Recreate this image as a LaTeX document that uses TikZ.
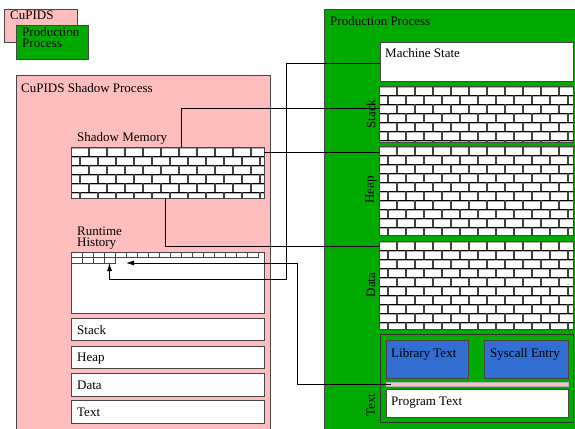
\documentclass[tikz,border=0pt]{standalone}
\usepackage{fontspec}
\setmainfont{Liberation Serif}
\usetikzlibrary{arrows.meta,calc}
\definecolor{cpink}{RGB}{255,190,190}
\definecolor{cgreen}{RGB}{0,170,0}
\definecolor{cblue}{RGB}{50,110,210}
\definecolor{edge}{RGB}{70,70,70}
\newcommand\rbox[6]{\node[#6, minimum width={(#4)-(#2)}, minimum height={(#5)-(#3)}, anchor=north west] (#1) at (#2,#3) {};}
\newcommand\brickfill[4]{%
  \begin{scope}
  \clip (#1,#2) rectangle (#3,#4);
  \foreach \r in {0,...,11}{
    \pgfmathsetmacro\yy{#2+9*\r}
    \pgfmathsetmacro\off{mod(\r,2)*9}
    \draw[gray!60, line width=1pt] (#1,\yy+1.2) -- (#3,\yy+1.2);
    \draw[black, line width=0.9pt] (#1,\yy) -- (#3,\yy);
    \foreach \k in {0,...,11}{
      \pgfmathsetmacro\xx{#1+\off+18*\k}
      \draw[black!75, line width=1.5pt] (\xx,\yy) -- (\xx,\yy+9);
    }
  }
  \end{scope}}
\begin{document}
\begin{tikzpicture}[x=1pt,y=-1pt,
  box/.style={draw=edge, line width=0.8pt, inner sep=0pt, outer sep=0pt},
  lbl/.style={anchor=base west, inner sep=0pt, font=\fontsize{13}{11}\selectfont},
  lblm/.style={anchor=north west, inner sep=0pt, align=left, font=\fontsize{13}{11}\selectfont},
  rlbl/.style={rotate=90, inner sep=0pt, font=\fontsize{13}{11}\selectfont},
  conn/.style={draw=black, line width=0.8pt},
  arr/.style={conn, -{Latex[length=8pt,width=5pt]}}]
\useasboundingbox (0,0) rectangle (575,428);
\fill[white] (0,0) rectangle (575,428);

% legend
\rbox{legpink}{4}{9}{77}{42}{box, fill=cpink}
\rbox{leggreen}{16}{25}{88}{59}{box, fill=cgreen}
\node[lbl] (legpinkt) at (10,19.5) {CuPIDS};
\node[lblm] (leggreent) at (22,27.2) {Production\\Process};

% shadow process
\rbox{shadow}{16}{75}{270}{440}{box, fill=cpink}
\node[lbl] (shadowt) at (21,92) {CuPIDS Shadow Process};
\node[lbl] (shmt) at (77,141) {Shadow Memory};
\rbox{shm}{71}{147}{264}{198}{box, fill=white}
\brickfill{71}{147}{264}{198}
\draw[edge, line width=0.8pt] (shm.north west) rectangle (shm.south east);

\node[lblm] (rht) at (77,226.2) {Runtime\\History};
\rbox{rh}{71}{252}{264}{313}{box, fill=white}
\foreach \k in {0,...,16}{\rbox{ha\k}{71+11*\k}{252}{82+11*\k}{257}{box, line width=0.7pt}}
\foreach \k in {1,...,4}{\rbox{hb\k}{60+11*\k}{257}{71+11*\k}{263}{box, line width=0.7pt}}

\rbox{sstack}{71}{318}{264}{340}{box, fill=white}
\rbox{sheap}{71}{346}{264}{368}{box, fill=white}
\rbox{sdata}{71}{373}{264}{396}{box, fill=white}
\rbox{stext}{71}{400}{264}{423}{box, fill=white}
\node[lbl] (sstackt) at (77,334) {Stack};
\node[lbl] (sheapt) at (77,361) {Heap};
\node[lbl] (sdatat) at (77,389) {Data};
\node[lbl] (stextt) at (77,416) {Text};

% production process
\rbox{prod}{324}{9}{590}{440}{box, fill=cgreen}
\node[lbl] (prodt) at (330,25.7) {Production Process};
\rbox{ms}{380}{42}{573}{81}{box, fill=white}
\node[lbl] (mst) at (385,58) {Machine State};
\rbox{stack}{379}{86}{573}{142}{box, fill=white}
\brickfill{379}{86}{573}{142}
\draw[edge, line width=0.8pt] (stack.north west) rectangle (stack.south east);
\rbox{heap}{379}{146}{573}{235}{box, fill=white}
\brickfill{379}{146}{573}{235}
\draw[edge, line width=0.8pt] (heap.north west) rectangle (heap.south east);
\rbox{data}{379}{241}{573}{329}{box, fill=white}
\brickfill{379}{241}{573}{329}
\draw[edge, line width=0.8pt] (data.north west) rectangle (data.south east);
\rbox{textsec}{380}{334}{573}{422}{box, draw=black!80, fill=cgreen}
\rbox{lib}{386}{340}{468}{378}{box, fill=cblue}
\rbox{sys}{484}{340}{568}{378}{box, fill=cblue}
\rbox{pinkbar}{386}{382}{568}{386}{box, draw=gray!60, line width=0.5pt, fill=cpink}
\rbox{prog}{386}{389}{568}{417}{box, fill=white}
\node[lbl] (libt) at (391,357) {Library Text};
\node[lbl] (syst) at (490,357) {Syscall Entry};
\node[lbl] (progt) at (391,405) {Program Text};
\node[rlbl] (stackl) at (371,114) {Stack};
\node[rlbl] (heapl) at (371,190) {Heap};
\node[rlbl] (datal) at (371,285) {Data};
\node[rlbl] (textl) at (371,405) {Text};

% connectors
\coordinate (mA) at (286,279);
\coordinate (pB) at (297,263);
\coordinate (rhTip) at (126,263);
\path[conn] ($(shm.north west)+(110,0)$) |- ($(stack.north west)+(0,22)$);
\path[conn] ($(shm.north east)+(0,5)$) -- ($(heap.north west)+(0,6)$);
\path[conn] ($(shm.south west)+(94,0)$) |- ($(data.north west)+(0,5)$);
\path[arr] ($(ms.west)+(0,1.5)$) -| (mA) -| (hb4.south);
\path[arr] ($(pinkbar.west)+(5,0)$) -| (pB) -- (rhTip);
\end{tikzpicture}
\end{document}
